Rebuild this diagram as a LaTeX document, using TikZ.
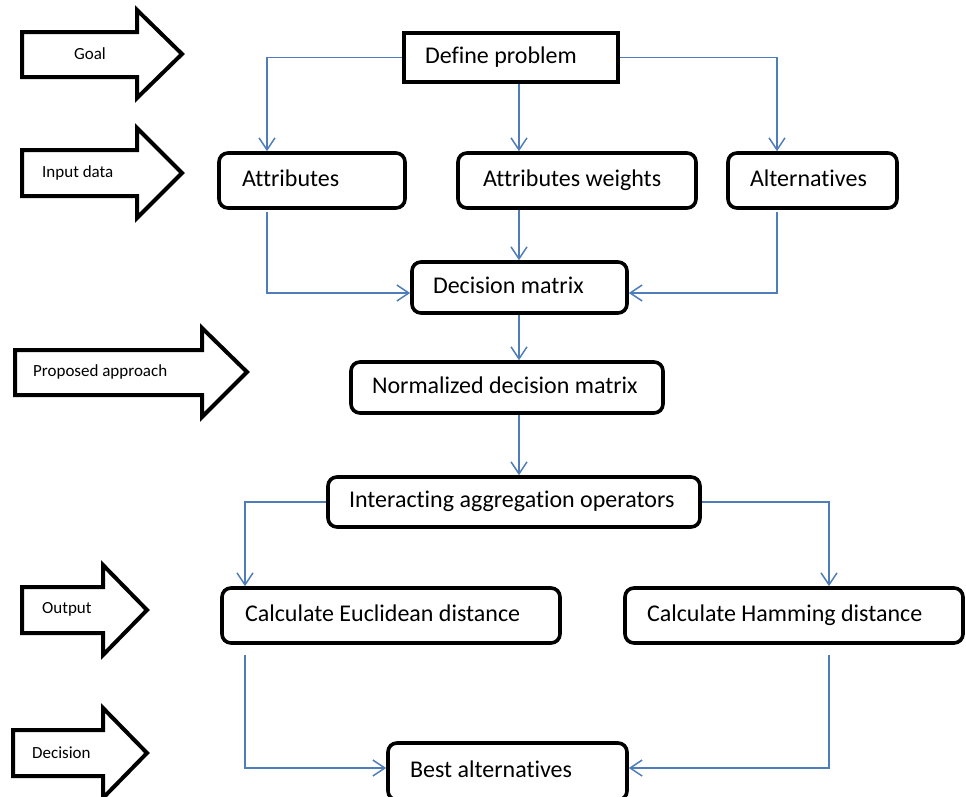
\documentclass[tikz,border=0pt]{standalone}
\usepackage{fontspec}
\setmainfont[Ligatures={NoCommon}]{Carlito}
\usetikzlibrary{arrows.meta}
\definecolor{linkblue}{RGB}{79,125,185}
\newcommand\mylbox[3]{\makebox[#1pt][l]{\hspace*{#2pt}\strut#3}}
\begin{document}
\begin{tikzpicture}[x=1pt,y=-1pt,
  box/.style={draw=black, line width=3.6pt, rounded corners=9pt, fill=white,
    inner xsep=0pt, inner ysep=0pt, font=\fontsize{24}{28}\selectfont},
  sbox/.style={box, rounded corners=0pt},
  bigarrow/.style={draw=black, line width=4pt, line join=miter, fill=white},
  lab/.style={font=\fontsize{17}{20}\selectfont, inner sep=0pt},
  flow/.style={draw=linkblue, line width=1.5pt,
    -{Straight Barb[length=12pt,width=16pt,line width=1.5pt]}},
]
\useasboundingbox (0,0) rectangle (966,796);
\clip (0,0) rectangle (966,796);

% left side arrows
\draw[bigarrow] (22,32) -- (137,32) -- (137,10) -- (182,54) -- (137,98) -- (137,77) -- (22,77) -- cycle;
\node[lab] (lgoal) at (90,54) {Goal};
\draw[bigarrow] (22,150) -- (137,150) -- (137,128) -- (182,173) -- (137,218) -- (137,196) -- (22,196) -- cycle;
\node[lab, anchor=west] (linput) at (42,173) {Input data};
\draw[bigarrow] (15,350) -- (202,350) -- (202,328) -- (247,372) -- (202,417) -- (202,395) -- (15,395) -- cycle;
\node[lab, anchor=west] (lprop) at (33,372) {Proposed approach};
\draw[bigarrow] (22,587) -- (103,587) -- (103,565) -- (147,610) -- (103,655) -- (103,633) -- (22,633) -- cycle;
\node[lab, anchor=west] (lout) at (42,609) {Output};
\draw[bigarrow] (13,730) -- (103,730) -- (103,708) -- (147,753) -- (103,798) -- (103,776) -- (13,776) -- cycle;
\node[lab, anchor=west] (ldec) at (32,753) {Decision};

% boxes
\node[sbox, minimum width=214pt, minimum height=49pt] (def) at (511,57.5) {\mylbox{214}{21}{Define problem}};
\node[box, minimum width=186pt, minimum height=55pt] (attr) at (312,180.5) {\mylbox{186}{23}{Attributes}};
\node[box, minimum width=238pt, minimum height=55pt] (aw) at (577,180.5) {\mylbox{238}{25}{Attributes weights}};
\node[box, minimum width=169pt, minimum height=55pt] (alt) at (812.5,180.5) {\mylbox{169}{22}{Alternatives}};
\node[box, minimum width=215pt, minimum height=51pt] (dm) at (519.5,287.5) {\mylbox{215}{21}{Decision matrix}};
\node[box, minimum width=312pt, minimum height=51pt] (ndm) at (507,387.5) {\mylbox{312}{21}{Normalized decision matrix}};
\node[box, minimum width=372pt, minimum height=50pt] (iao) at (514,502) {\mylbox{372}{21}{Interacting aggregation operators}};
\node[box, minimum width=338pt, minimum height=55pt] (eu) at (391,615.5) {\mylbox{338}{23}{Calculate Euclidean distance}};
\node[box, minimum width=338pt, minimum height=55pt] (ham) at (794,615.5) {\mylbox{338}{22}{Calculate Hamming distance}};
\node[box, minimum width=239pt, minimum height=57pt] (best) at (507.5,771.5) {\mylbox{239}{22}{Best alternatives}};

% connector columns
\coordinate (c1) at (267,0);
\coordinate (c2) at (519,0);
\coordinate (c3) at (777,0);
\coordinate (c4) at (245,0);
\coordinate (c5) at (829,0);

\draw[flow] (def.west) -| (attr.north -| c1);
\draw[flow] (def.south -| c2) -- (aw.north -| c2);
\draw[flow] (def.east) -| (alt.north -| c3);
\draw[flow, shorten <=2pt] (attr.south -| c1) |- ([yshift=-5.5pt]dm.west);
\draw[flow] (aw.south -| c2) -- (dm.north -| c2);
\draw[flow, shorten <=2pt] (alt.south -| c3) |- ([yshift=-5.5pt]dm.east);
\draw[flow] (dm.south -| c2) -- (ndm.north -| c2);
\draw[flow] (ndm.south -| c2) -- (iao.north -| c2);
\draw[flow] (iao.west) -| (eu.north -| c4);
\draw[flow] (iao.east) -| (ham.north -| c5);
\draw[flow, shorten <=10pt] (eu.south -| c4) |- ([yshift=3.5pt]best.west);
\draw[flow, shorten <=10pt] (ham.south -| c5) |- ([yshift=3.5pt]best.east);
\end{tikzpicture}
\end{document}
